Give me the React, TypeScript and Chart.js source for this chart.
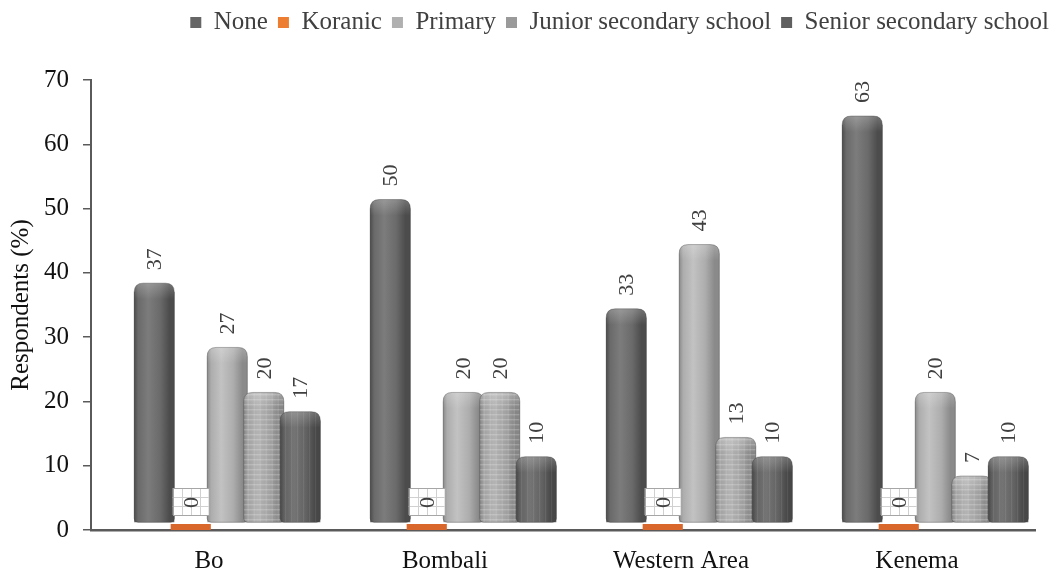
import { useEffect, useRef } from 'react';
import { Chart, registerables } from 'chart.js';

Chart.register(...registerables);

// ---- data ----
const regions = ['Bo', 'Bombali', 'Western Area', 'Kenema'];
const seriesNames = ['None', 'Koranic', 'Primary', 'Junior secondary school', 'Senior secondary school'];
const noneValues = [37, 50, 33, 63];
const koranicValues = [0, 0, 0, 0];
const primaryValues = [27, 20, 43, 20];
const juniorValues = [20, 20, 13, 7];
const seniorValues = [17, 10, 10, 10];
// empty slot that stands for the 3D depth offset of the original chart
const depthSpacer: (number | null)[] = [null, null, null, null];
const yTickValues = [0, 10, 20, 30, 40, 50, 60, 70];

const FONT = "'Liberation Serif', 'Times New Roman', serif";

type Shade = { dark: string; mid: string; light: string; pattern?: 'grid' | 'stripes' } | null;

function cylPath(ctx: CanvasRenderingContext2D, l: number, t: number, w: number, b: number, rt: number, rb: number) {
  ctx.beginPath();
  ctx.moveTo(l, t + rt);
  ctx.quadraticCurveTo(l, t, l + rt, t);
  ctx.lineTo(l + w - rt, t);
  ctx.quadraticCurveTo(l + w, t, l + w, t + rt);
  ctx.lineTo(l + w, b - rb);
  ctx.quadraticCurveTo(l + w, b, l + w - rb, b);
  ctx.lineTo(l + rb, b);
  ctx.quadraticCurveTo(l, b, l, b - rb);
  ctx.closePath();
}

const cylinderPlugin = {
  id: 'cylinders',
  afterDatasetsDraw(chart: any) {
    const ctx: CanvasRenderingContext2D = chart.ctx;
    chart.data.datasets.forEach((ds: any, di: number) => {
      const shade: Shade = ds.shade;
      if (!shade) return;
      const meta = chart.getDatasetMeta(di);
      meta.data.forEach((el: any, i: number) => {
        const v = ds.data[i];
        if (v == null) return;
        const { x, y, base, width } = el.getProps(['x', 'y', 'base', 'width'], true);
        const l = x - width / 2;
        const t = y - 9;
        const b = base;
        const rt = 9;
        const rb = 4;
        ctx.save();
        cylPath(ctx, l, t, width, b, rt, rb);
        const g = ctx.createLinearGradient(l, 0, l + width, 0);
        g.addColorStop(0, shade.dark);
        g.addColorStop(0.1, shade.mid);
        g.addColorStop(0.35, shade.light);
        g.addColorStop(0.65, shade.mid);
        g.addColorStop(0.88, shade.dark);
        g.addColorStop(1, shade.dark);
        ctx.fillStyle = g;
        ctx.fill();
        ctx.clip();
        if (shade.pattern === 'grid') {
          ctx.strokeStyle = 'rgba(255,255,255,0.28)';
          ctx.lineWidth = 1;
          for (let yy = b - 3; yy > t; yy -= 5) {
            ctx.beginPath();
            ctx.moveTo(l, yy + 0.5);
            ctx.lineTo(l + width, yy + 0.5);
            ctx.stroke();
          }
          ctx.strokeStyle = 'rgba(255,255,255,0.16)';
          for (let xx = l + 4; xx < l + width; xx += 6) {
            ctx.beginPath();
            ctx.moveTo(xx + 0.5, t);
            ctx.lineTo(xx + 0.5, b);
            ctx.stroke();
          }
        } else if (shade.pattern === 'stripes') {
          ctx.lineWidth = 1;
          for (let xx = l + 5; xx < l + width - 4; xx += 6) {
            ctx.strokeStyle = 'rgba(255,255,255,0.10)';
            ctx.beginPath();
            ctx.moveTo(xx + 0.5, t);
            ctx.lineTo(xx + 0.5, b);
            ctx.stroke();
          }
        }
        // top cap highlight
        const cg = ctx.createLinearGradient(0, t, 0, t + 16);
        cg.addColorStop(0, 'rgba(255,255,255,0.22)');
        cg.addColorStop(1, 'rgba(255,255,255,0)');
        ctx.fillStyle = cg;
        ctx.fillRect(l, t, width, 16);
        ctx.restore();
        ctx.save();
        cylPath(ctx, l, t, width, b, rt, rb);
        ctx.strokeStyle = 'rgba(60,60,60,0.35)';
        ctx.lineWidth = 1;
        ctx.stroke();
        ctx.restore();
      });
    });
  },
};

const labelPlugin = {
  id: 'valueLabels',
  afterDatasetsDraw(chart: any) {
    const ctx: CanvasRenderingContext2D = chart.ctx;
    chart.data.datasets.forEach((ds: any, di: number) => {
      if (!ds.showValues) return;
      const meta = chart.getDatasetMeta(di);
      meta.data.forEach((el: any, i: number) => {
        const v = ds.data[i];
        if (v == null) return;
        const { x, y } = el.getProps(['x', 'y'], true);
        const anchor = y - 22;
        ctx.save();
        if (v === 0) {
          const bw = 36;
          const top = anchor - 20;
          const bottom = anchor + 7;
          ctx.fillStyle = '#ffffff';
          ctx.fillRect(x - bw / 2, top, bw, bottom - top);
          ctx.strokeStyle = '#d0d0d0';
          ctx.lineWidth = 1;
          for (let k = 1; k < 3; k++) {
            const yy = top + ((bottom - top) * k) / 3;
            ctx.beginPath();
            ctx.moveTo(x - bw / 2, Math.round(yy) + 0.5);
            ctx.lineTo(x + bw / 2, Math.round(yy) + 0.5);
            ctx.stroke();
          }
          for (let k = 1; k < 4; k++) {
            const xx = x - bw / 2 + (bw * k) / 4;
            ctx.beginPath();
            ctx.moveTo(Math.round(xx) + 0.5, top);
            ctx.lineTo(Math.round(xx) + 0.5, bottom);
            ctx.stroke();
          }
          ctx.strokeStyle = '#a6a6a6';
          ctx.strokeRect(Math.round(x - bw / 2) + 0.5, Math.round(top) + 0.5, bw, Math.round(bottom - top));
        }
        ctx.translate(x, anchor);
        ctx.rotate(-Math.PI / 2);
        ctx.font = `22px ${FONT}`;
        ctx.fillStyle = '#404040';
        ctx.textAlign = 'left';
        ctx.textBaseline = 'middle';
        ctx.fillText(String(v), 0, 1);
        ctx.restore();
      });
    });
  },
};

export default function App() {
  const ref = useRef<HTMLCanvasElement | null>(null);

  useEffect(() => {
    if (!ref.current) return;
    const values = [noneValues, koranicValues, primaryValues, juniorValues, seniorValues];
    const colors = ['#666666', '#ED7D31', '#B0B0B0', '#9A9A9A', '#5F5F5F'];
    const shades: Shade[] = [
      { dark: '#4c4c4c', mid: '#6a6a6a', light: '#7c7c7c' },
      null,
      { dark: '#8a8a8a', mid: '#adadad', light: '#c2c2c2' },
      { dark: '#868686', mid: '#a2a2a2', light: '#b3b3b3', pattern: 'grid' },
      { dark: '#474747', mid: '#626262', light: '#747474', pattern: 'stripes' },
    ];
    const datasets: any[] = [
      {
        label: '__spacer',
        data: depthSpacer,
        backgroundColor: 'rgba(0,0,0,0)',
        base: 1.2,
      },
      ...seriesNames.map((name, i) => ({
        label: name,
        data: values[i],
        backgroundColor: i === 1 ? '#D9662A' : colors[i],
        legendColor: colors[i],
        base: i === 1 ? 0.95 : 1.2,
        shade: shades[i],
        showValues: true,
      })),
    ];

    const chart = new Chart(ref.current, {
      type: 'bar',
      data: { labels: regions, datasets },
      options: {
        animation: false,
        responsive: false,
        maintainAspectRatio: false,
        layout: { padding: 0 },
        datasets: {
          bar: { categoryPercentage: 0.928, barPercentage: 1.1 },
        },
        plugins: {
          tooltip: { enabled: false },
          // empty title used only as the gap between the legend and the plot
          title: {
            display: true,
            text: ' ',
            weight: 500,
            font: { size: 10 },
            padding: { top: 0, bottom: 23 },
          },
          legend: {
            position: 'top',
            align: 'end',
            labels: {
              font: { family: FONT, size: 25 },
              color: '#404040',
              boxWidth: 11,
              boxHeight: 11,
              padding: 10,
              filter: (item: any) => item.text !== '__spacer',
              generateLabels: (c: any) => {
                const items = Chart.defaults.plugins.legend.labels.generateLabels(c);
                return items.map((it: any) => {
                  const ds = c.data.datasets[it.datasetIndex];
                  return { ...it, fillStyle: ds.legendColor || it.fillStyle, strokeStyle: 'rgba(0,0,0,0)', lineWidth: 0 };
                });
              },
            },
          },
        },
        scales: {
          x: {
            type: 'category',
            grid: { display: false, drawTicks: false },
            border: { display: true, color: '#5a5a5a', width: 2.5 },
            ticks: {
              font: { family: FONT, size: 25 },
              color: '#111111',
              padding: 16,
            },
            afterFit: (scale: any) => {
              scale.height = 45;
              scale.paddingRight = 24;
              scale.paddingLeft = 0;
            },
          },
          y: {
            min: 0,
            max: 70,
            afterBuildTicks: (scale: any) => {
              scale.ticks = yTickValues.map((v) => ({ value: v }));
            },
            grid: { drawOnChartArea: false, drawTicks: true, tickLength: 8, color: '#5a5a5a', lineWidth: 1.5 },
            border: { display: true, color: '#5a5a5a', width: 2 },
            ticks: {
              font: { family: FONT, size: 25 },
              color: '#111111',
              padding: 14,
            },
            title: {
              display: true,
              text: 'Respondents (%)',
              font: { family: FONT, size: 25 },
              color: '#111111',
              padding: { top: 6, bottom: 0 },
            },
            afterFit: (scale: any) => {
              scale.width = 91;
            },
          },
        },
      },
      plugins: [cylinderPlugin, labelPlugin],
    });
    return () => chart.destroy();
  }, []);

  return (
    <div style={{ position: 'fixed', left: 0, top: 0, width: 1059, height: 575, background: '#ffffff' }}>
      <canvas ref={ref} width={1059} height={575} style={{ display: 'block' }} />
    </div>
  );
}
